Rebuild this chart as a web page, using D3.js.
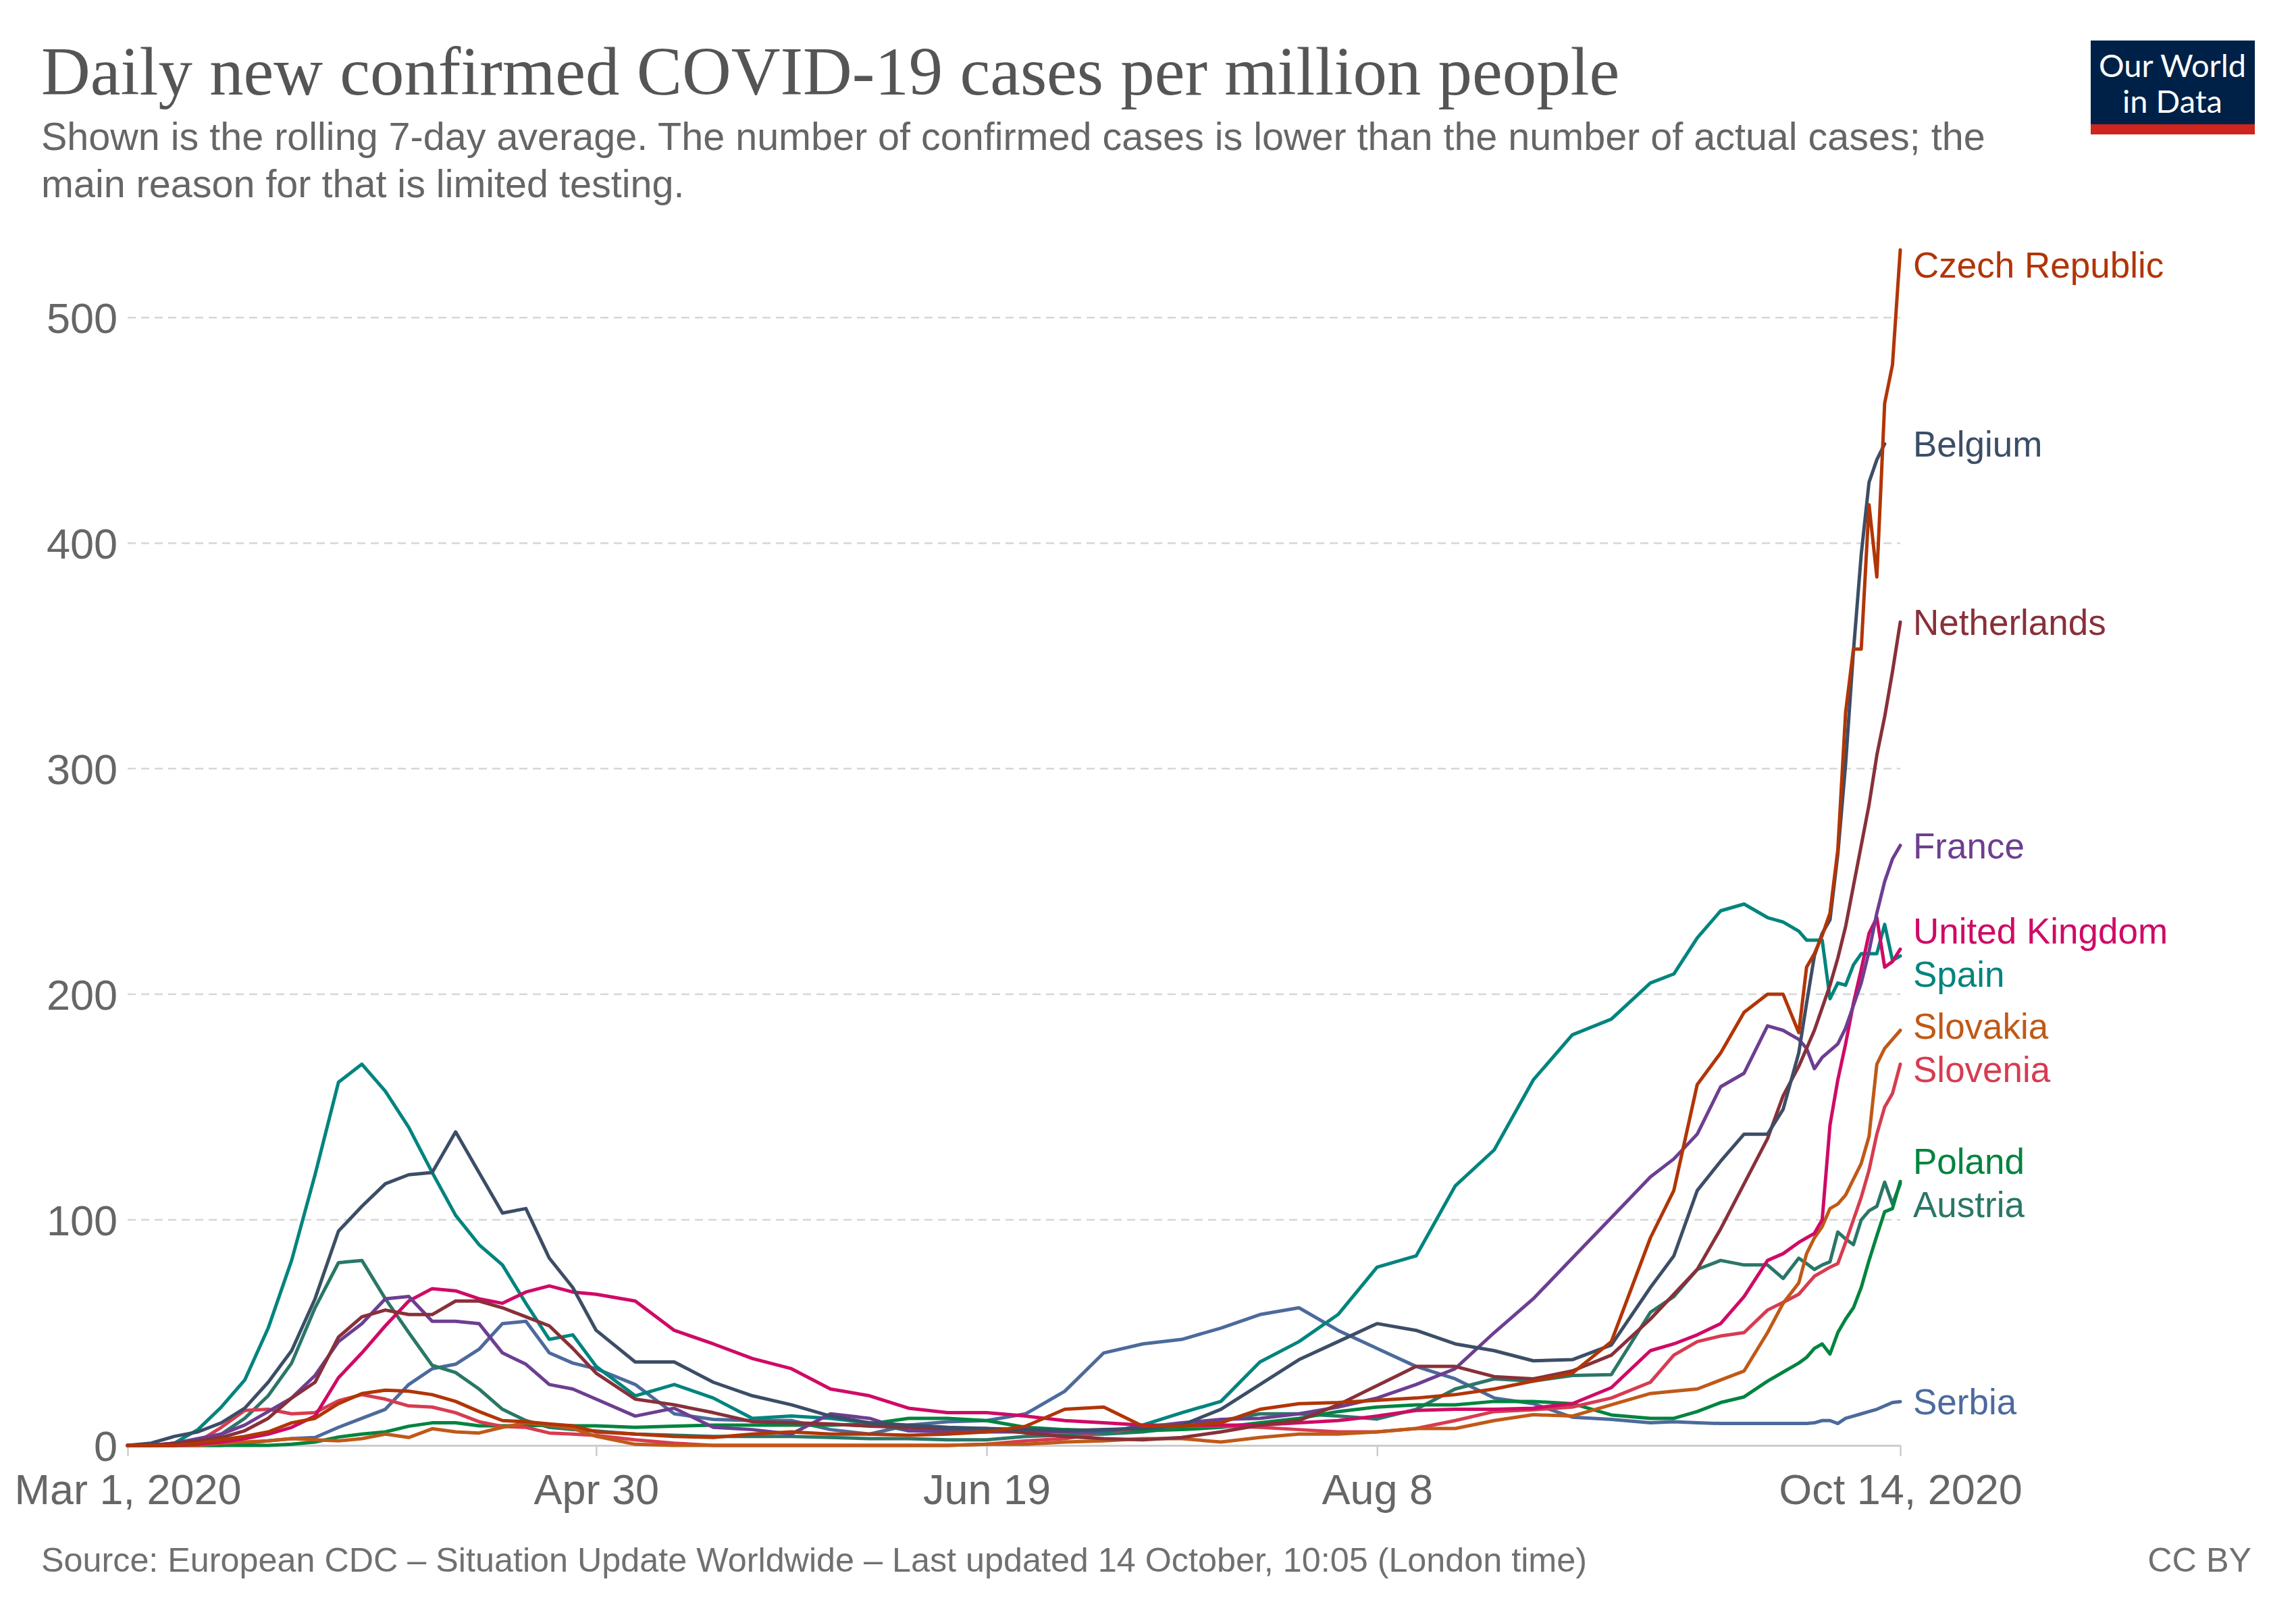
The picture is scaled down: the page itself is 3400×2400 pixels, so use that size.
<!DOCTYPE html>
<html>
<head>
<meta charset="utf-8">
<script src="https://cdn.jsdelivr.net/npm/d3@7"></script>
<style>
  html, body { margin: 0; padding: 0; background: #fff; }
  svg { display: block; }
</style>
</head>
<body>
<svg id="chart" width="3400" height="2400"></svg>
<script>
// ---- Data: days after Mar 1, 2020 and 7-day rolling average cases per million ----
const days = [0,3,6,9,12,15,18,21,24,27,30,33,36,39,42,45,48,51,54,57,60,
  65,70,75,80,85,90,95,100,105,110,115,120,125,130,135,140,145,150,155,160,165,170,175,180,185,190,195,
  198,201,204,207,210,212,214,215,216,217,218,219,220,221,222,223,224,225,226,227];

const czech = [0,0,0,1,2.5,4,6,10,12,18.5,23,24.5,24,22.5,19.5,15,11,10.5,9.5,8.7,6,
  5,4,3.5,5,6,5,5,4.5,5,6,8.5,16,17,8.5,8.5,10,16,18.5,19,20,21,22.5,25,28.5,32,46,92,
  113,160,174,192,200,200,183,212,218,226,236,264,325,353,353,417,385,462,479,530];
const belgium = [0,1,4,6,10,16.5,28,42,65,95,106,116,120,121,139,121,103,105,83,70,51,
  37,37,28,22,18,13,10,9,8,7.5,7,6.5,7,7.5,9,16,27,38,46,54,51,45,42,37.5,38,44.5,70,
  84,113,126,138,138,149,174,196,217,227,233,262,302,352,395,427,437,444,null,null];
const netherlands = [0,0,1,2,3.5,6.5,12,21,28,48,57,60,58,58,64,64,61,57,53,43,32,
  20.5,18,14.5,10.5,10,9.5,8.5,8,7.5,7.5,5.5,4,3,2.5,3.5,6,9,11,18,26.5,35,35,30.5,29.5,33,40,56,
  67,78,96,116,136,155,168,176,184,194,204,216,230,248,266,284,306,323,343,365];
const france = [0,0,1,3,5,9,15,21,31,46,54,65,66,55,55,54,41,36,27,25,20.5,
  13,16.5,8,7,5,14,12,6.5,6,6,6,6,6.5,8,10,11.5,12,14,17,21,27,34,50,65,83,101,119,
  127,138,159,165,186,184,180,176,167,172,175,178,185,195,205,219,236,250,260,266];
const uk = [0,0,0,0.5,1.5,3,5,8,13,30,41,53,64,69.5,68.5,65,63,68,70.7,68,67,
  64,51,45,38.5,34,25,22,16.5,14.5,14.5,13,11,10,9,9,9,9,10,11,13,15.5,16,16,16.5,18.5,25.6,42,
  45,49,54,66,82,85,90,92,94,100,142,162,178,196,211,227,234,212,214.5,220];
const spain = [0,0,1,7,17,29,52,82,120,161,169,157,141,121,102,89,80,63,47,49,35,
  22,27,21,12,13,12,10,6.5,6.5,6.5,6,6,5.5,9,14.5,19.5,37,46,58,79,84,115,131,162,182,189,205,
  209,225,237,240,234,232,228,224,224,224,198,205,204,213,218,218,218,231,215,217];
const slovakia = [0,0,0,0,1,1.5,2,3,2.5,2,3,5,3.5,7.4,6,5.5,8,10,9,7.5,4,
  0.5,0,0,0,0,0,0,0,0,0.5,0.5,1.5,2,3,3,1.5,3.5,5,5,6,7.5,7.5,11,13.6,13,18,23,
  24,25,29,33,50,63,72,85,92,97,105,107,111,118,125,137,169,176,180,184];
const slovenia = [0,0,0,1.5,8,15.5,16,14,14.5,19.8,22.5,20.5,17.5,17,14.5,10.5,8.4,8,5.5,5,4.4,
  2.5,1,0,0,0,0,0,0,0,0.5,2,3,5.5,8,8.5,8.5,8,7,6,6,7.5,11,15,15.8,17,21,28,
  40,46,48.5,50,60,63.4,67,71,75,77,79,80.6,90,100,110,122,138,150,156,169];
const poland = [0,0,0,0,0,0,0,0.5,1.5,3.7,5,6,8.5,10,10,8.7,8.7,8.7,9,8.7,8.7,
  8,8.5,9,9,9,9,9.5,12,12,11,8,7,6.5,6.5,7,8,10,12,15,17,18,18,19.5,19.5,18.5,13.5,12,
  12,15,19,21.5,28.5,32.5,36.5,39,43,45,40.5,50,56,61,70,82,93,103.6,105,117];
const austria = [0,0,0,2.5,5,12,22,36.5,61,81,82,65,50,35.5,32.3,25,16,11,8,7,6.4,
  5,4.5,4,4,4,3.5,3,3,2.5,2.5,4,4.5,5,6,8,11,14,14,13,11.7,16,25,29.5,28.5,31,31.4,59,
  66,78,82,80,80,74,83,80.6,78,80,81.4,94.6,91.5,89,100,104,106,116.7,107,116];
const serbia = [0,0,0,0,0,1,2,3,3.5,8,12,16,27,34,36,42.6,54,55,41,36.5,34,
  27,14,11.5,11,11,7,5,9,10.5,11,14,24,41,45,47,52,58,61,51,43,35,29.5,21,18.5,12.5,11.5,10,
  10.5,10,9.7,9.7,9.7,9.7,9.7,9.7,10,11,11,9.7,12,13,14,15,16,17.5,19,19.4];

const countryNames = ["Serbia","Austria","Poland","Slovenia","Slovakia","Spain","United Kingdom","France","Netherlands","Belgium","Czech Republic"];
const countryValues = [serbia, austria, poland, slovenia, slovakia, spain, uk, france, netherlands, belgium, czech];
const countryColors = ["#4C6A9C","#2A7767","#00843F","#D73C50","#C05917","#00847E","#CF0A66","#6D3E91","#883039","#3C4E66","#B13507"];

const yTickValues = [0,100,200,300,400,500];
const xTickDates = ["2020-03-01","2020-04-30","2020-06-19","2020-08-08","2020-10-14"];
const xTickLabels = ["Mar 1, 2020","Apr 30","Jun 19","Aug 8","Oct 14, 2020"];

const titleText = "Daily new confirmed COVID-19 cases per million people";
const subtitleLines = ["Shown is the rolling 7-day average. The number of confirmed cases is lower than the number of actual cases; the",
                       "main reason for that is limited testing."];
const sourceText = "Source: European CDC \u2013 Situation Update Worldwide \u2013 Last updated 14 October, 10:05 (London time)";
const licenseText = "CC BY";

// ---- Layout ----
const svg = d3.select("#chart");
const startDate = new Date(Date.UTC(2020, 2, 1));
const endDate = new Date(Date.UTC(2020, 9, 14));
const plotLeft = 189, plotRight = 2814, plotBottom = 2140, plotTop = 370;
const sans = "'Liberation Sans', Arial, Helvetica, sans-serif";

const x = d3.scaleUtc().domain([startDate, endDate]).range([plotLeft, plotRight]);
const y = d3.scaleLinear().domain([0, 530]).range([plotBottom, plotTop]);
const dayDate = d => d3.utcDay.offset(startDate, d);

// Title & subtitle
svg.append("text").attr("x", 61).attr("y", 140)
  .attr("font-family", "'Liberation Serif', 'Times New Roman', serif")
  .attr("font-size", 100.8).attr("fill", "#555").text(titleText);
subtitleLines.forEach((t, i) => {
  svg.append("text").attr("x", 61).attr("y", 222 + i * 70)
    .attr("font-family", sans).attr("font-size", 57.5).attr("fill", "#666").text(t);
});

// Logo
const logo = svg.append("g");
logo.append("rect").attr("x", 3096).attr("y", 60).attr("width", 243).attr("height", 124).attr("fill", "#002147");
logo.append("rect").attr("x", 3096).attr("y", 184).attr("width", 243).attr("height", 15).attr("fill", "#CE261E");
["Our World", "in Data"].forEach((t, i) => {
  logo.append("text").attr("x", 3217).attr("y", 114 + i * 53).attr("text-anchor", "middle")
    .attr("font-family", "Lato, 'Open Sans', sans-serif").attr("font-size", 47).attr("fill", "#fff").text(t);
});

// Gridlines
const grid = svg.append("g");
yTickValues.filter(v => v > 0).forEach(v => {
  grid.append("line").attr("x1", plotLeft).attr("x2", plotRight).attr("y1", y(v)).attr("y2", y(v))
    .attr("stroke", "#d6d6d6").attr("stroke-width", 2.5).attr("stroke-dasharray", "12,8");
});
// Y labels
yTickValues.forEach(v => {
  svg.append("text").attr("x", 174).attr("y", y(v)).attr("dy", "0.36em").attr("text-anchor", "end")
    .attr("font-family", sans).attr("font-size", 63).attr("fill", "#666").text(v);
});

// X axis
const xAxis = d3.axisBottom(x)
  .tickValues(xTickDates.map(s => new Date(s + "T00:00:00Z")))
  .tickFormat((d, i) => xTickLabels[i])
  .tickSize(16).tickSizeOuter(0).tickPadding(26);
const gx = svg.append("g").attr("transform", `translate(0,${plotBottom})`).call(xAxis);
gx.select(".domain").attr("stroke", "#ccc").attr("stroke-width", 3);
gx.selectAll(".tick line").attr("stroke", "#ccc").attr("stroke-width", 2.5);
gx.selectAll(".tick text").attr("font-family", sans).attr("font-size", 63).attr("fill", "#666");

// Lines
const line = d3.line()
  .defined(d => d.v !== null)
  .x(d => x(dayDate(d.day)))
  .y(d => y(d.v));

const series = countryNames.map((name, i) => ({
  name, color: countryColors[i],
  points: days.map((d, j) => ({ day: d, v: countryValues[i][j] }))
}));

const lines = svg.append("g");
series.forEach(s => {
  lines.append("path").datum(s.points).attr("d", line)
    .attr("fill", "none").attr("stroke", s.color).attr("stroke-width", 5)
    .attr("stroke-linejoin", "round").attr("stroke-linecap", "round");
});

// End labels with collision avoidance
const labelItems = series.map(s => {
  const last = s.points.filter(p => p.v !== null).slice(-1)[0];
  return { name: s.name, color: s.color, target: y(last.v) };
});
const gap = 64, topBound = plotTop + 22;
labelItems.sort((a, b) => a.target - b.target);
let groups = labelItems.map(it => ({ items: [it], pos: it.target }));
let merged = true;
while (merged) {
  merged = false;
  for (let i = 0; i < groups.length - 1; i++) {
    const g = groups[i], h = groups[i + 1];
    const gBottom = g.pos + (g.items.length - 1) * gap / 2;
    const hTop = h.pos - (h.items.length - 1) * gap / 2;
    if (hTop - gBottom < gap) {
      const items = g.items.concat(h.items);
      groups.splice(i, 2, { items, pos: d3.mean(items, d => d.target) });
      merged = true;
      break;
    }
  }
}
groups.forEach(g => {
  let top = g.pos - (g.items.length - 1) * gap / 2;
  if (top < topBound) top = topBound;
  g.items.forEach((it, k) => { it.y = top + k * gap; });
});
labelItems.forEach(it => {
  svg.append("text").attr("x", 2833).attr("y", it.y).attr("dy", "0.36em")
    .attr("font-family", sans).attr("font-size", 53).attr("fill", it.color).text(it.name);
});

// Footer
svg.append("text").attr("x", 61).attr("y", 2327).attr("font-family", sans).attr("font-size", 50.3)
  .attr("fill", "#707070").text(sourceText);
svg.append("text").attr("x", 3334).attr("y", 2327).attr("text-anchor", "end").attr("font-family", sans)
  .attr("font-size", 50.3).attr("fill", "#707070").text(licenseText);
</script>
</body>
</html>
